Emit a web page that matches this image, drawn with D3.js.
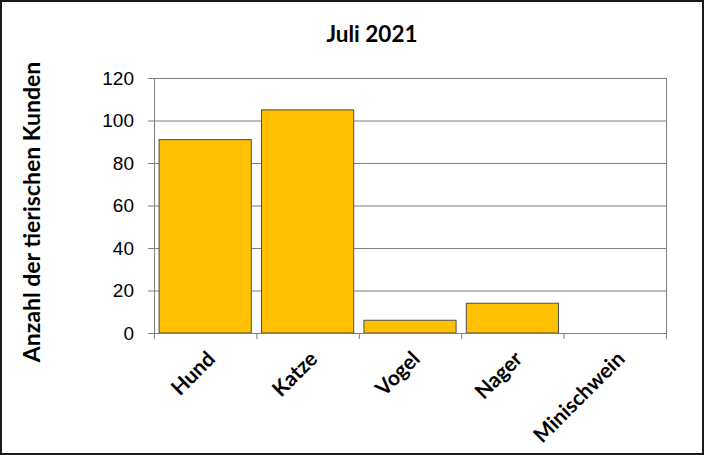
<!DOCTYPE html>
<html>
<head>
<meta charset="utf-8">
<script src="https://cdn.jsdelivr.net/npm/d3@7"></script>
<style>
  body { margin: 0; background: #fff; }
  svg { display: block; font-family: Lato, "Open Sans", sans-serif; }
</style>
</head>
<body>
<svg id="chart"></svg>
<script>
// Data
const categories = ["Hund", "Katze", "Vogel", "Nager", "Minischwein"];
const values = [91, 105, 6, 14, 0];
const yTicks = [0, 20, 40, 60, 80, 100, 120];

const W = 704, H = 455;
const margin = { top: 78, right: 38, bottom: 122, left: 154 };
const width = W - margin.left - margin.right;
const height = H - margin.top - margin.bottom;

const root = d3.select("#chart").attr("width", W).attr("height", H);

// outer frame
root.append("rect")
  .attr("x", 1).attr("y", 1)
  .attr("width", W - 2).attr("height", H - 2)
  .attr("fill", "#fff")
  .attr("stroke", "#1a1a1a")
  .attr("stroke-width", 2);

const svg = root.append("g")
  .attr("transform", `translate(${margin.left},${margin.top})`);

const x = d3.scaleBand()
  .domain(categories)
  .range([0, width])
  .paddingInner(0.1)
  .paddingOuter(0.05);

const y = d3.scaleLinear()
  .domain([0, 120])
  .range([height, 0]);

// horizontal grid lines
svg.append("g")
  .selectAll("line")
  .data(yTicks.filter(d => d > 0))
  .enter()
  .append("line")
  .attr("x1", 0).attr("x2", width)
  .attr("y1", d => y(d) + 0.5).attr("y2", d => y(d) + 0.5)
  .attr("stroke", "#7f7f7f")
  .attr("stroke-width", 1);

// right border of plot area
svg.append("line")
  .attr("x1", width + 0.5).attr("x2", width + 0.5)
  .attr("y1", 0).attr("y2", height)
  .attr("stroke", "#7f7f7f");

// bars
svg.selectAll(".bar")
  .data(categories)
  .enter()
  .append("rect")
  .attr("class", "bar")
  .attr("x", d => x(d))
  .attr("width", x.bandwidth())
  .attr("y", (d, i) => y(values[i]))
  .attr("height", (d, i) => height - y(values[i]))
  .attr("fill", "#ffc000")
  .attr("stroke", "#4d4d4d")
  .attr("stroke-width", 1);

// Y axis
const yAxis = svg.append("g")
  .call(d3.axisLeft(y).tickValues(yTicks).tickSize(6).tickPadding(14).tickSizeOuter(0));
yAxis.select(".domain").attr("stroke", "#7f7f7f");
yAxis.selectAll(".tick line").attr("stroke", "#7f7f7f");
yAxis.selectAll("text")
  .style("font-size", "19px")
  .attr("fill", "#000");

// X axis (ticks at category boundaries)
const xg = svg.append("g").attr("transform", `translate(0,${height})`);
xg.append("line")
  .attr("x1", -6).attr("x2", width)
  .attr("y1", 0.5).attr("y2", 0.5)
  .attr("stroke", "#7f7f7f");
const step = x.step();
xg.selectAll(".xtick")
  .data(d3.range(categories.length + 1))
  .enter()
  .append("line")
  .attr("x1", i => i * step + 0.5).attr("x2", i => i * step + 0.5)
  .attr("y1", 0).attr("y2", 6)
  .attr("stroke", "#7f7f7f");

xg.selectAll(".xlabel")
  .data(categories)
  .enter()
  .append("text")
  .attr("class", "xlabel")
  .attr("transform", d => `translate(${x(d) + x.bandwidth() / 2 + 6},${22}) rotate(-45)`)
  .attr("text-anchor", "end")
  .attr("dy", "0.35em")
  .style("font-size", "21px")
  .style("font-weight", "bold")
  .text(d => d);

// title
root.append("text")
  .attr("x", 372)
  .attr("y", 42)
  .attr("text-anchor", "middle")
  .style("font-size", "22.5px")
  .style("font-weight", "bold")
  .text("Juli 2021");

// y-axis title
root.append("text")
  .attr("transform", `translate(40,${212}) rotate(-90)`)
  .attr("text-anchor", "middle")
  .style("font-size", "23px")
  .style("font-weight", "bold")
  .text("Anzahl der tierischen Kunden");
</script>
</body>
</html>
